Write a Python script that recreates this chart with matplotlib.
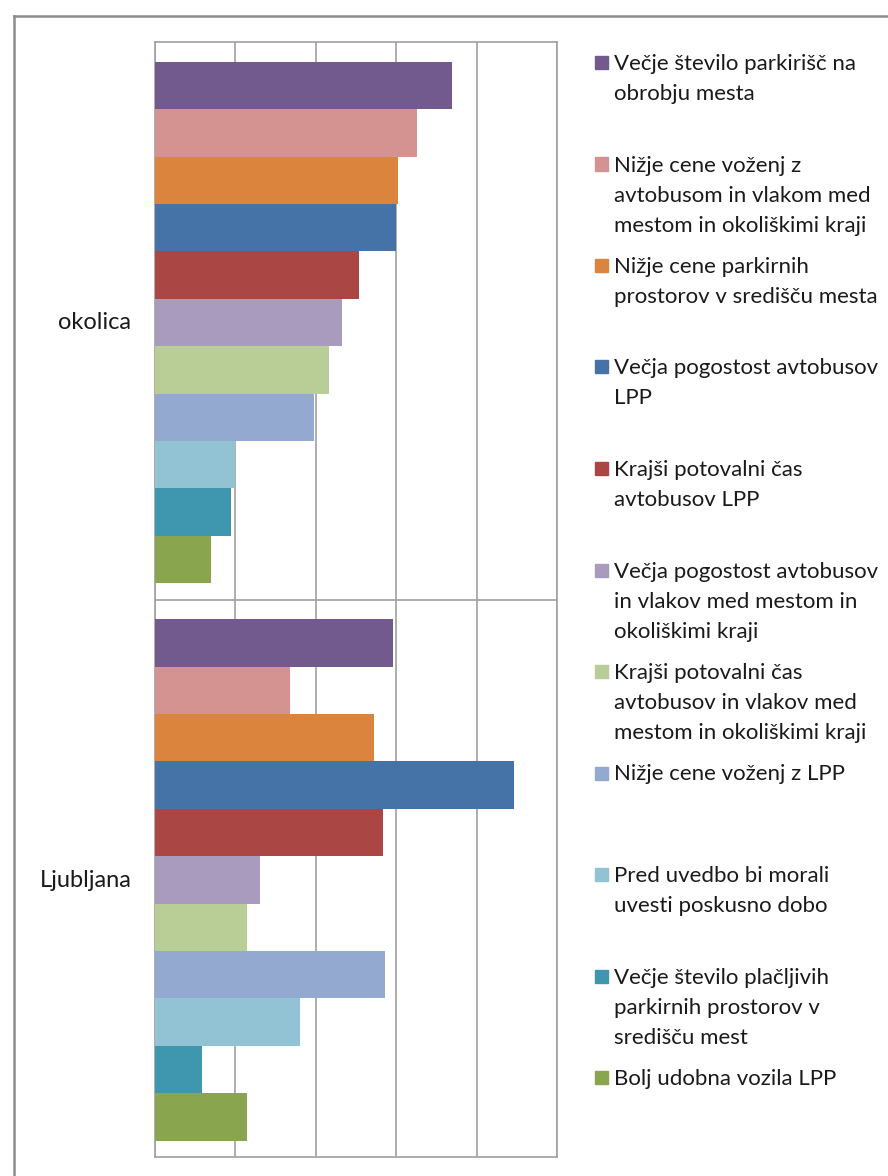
import matplotlib
matplotlib.use("Agg")
import matplotlib.pyplot as plt
from matplotlib.patches import Rectangle
from matplotlib.lines import Line2D
import numpy as np

plt.rcParams['font.family'] = ['Lato', 'DejaVu Sans']

categories = ["Ljubljana", "okolica"]
series_labels = [
    "Večje število parkirišč na\nobrobju mesta",
    "Nižje cene voženj z\navtobusom in vlakom med\nmestom in okoliškimi kraji",
    "Nižje cene parkirnih\nprostorov v središču mesta",
    "Večja pogostost avtobusov\nLPP",
    "Krajši potovalni čas\navtobusov LPP",
    "Večja pogostost avtobusov\nin vlakov med mestom in\nokoliškimi kraji",
    "Krajši potovalni čas\navtobusov in vlakov med\nmestom in okoliškimi kraji",
    "Nižje cene voženj z LPP",
    "Pred uvedbo bi morali\nuvesti poskusno dobo",
    "Večje število plačljivih\nparkirnih prostorov v\nsredišču mest",
    "Bolj udobna vozila LPP",
]
colors = ["#72598E", "#D49290", "#DB843D", "#4572A7", "#AA4643", "#A99BBD",
          "#B9CD96", "#93A9CF", "#92C3D4", "#3F97AF", "#89A54E"]
# values per series: [Ljubljana, okolica]
values_ljubljana = [14.8, 8.4, 13.6, 22.3, 14.2, 6.5, 5.7, 14.3, 9.0, 2.9, 5.7]
values_okolica = [18.5, 16.3, 15.1, 15.0, 12.7, 11.6, 10.8, 9.9, 5.0, 4.7, 3.5]

W, H = 888, 1176
fig = plt.figure(figsize=(W / 100, H / 100), dpi=100)

# outer frame
fig.add_artist(Line2D([14 / W, 14 / W], [0, 1 - 16 / H], transform=fig.transFigure,
                      color="#8C8C8C", lw=1.8))
fig.add_artist(Line2D([14 / W, 1], [1 - 16 / H, 1 - 16 / H], transform=fig.transFigure,
                      color="#8C8C8C", lw=1.8))

ax = fig.add_axes([155 / W, 1 - 1157 / H, (557 - 155) / W, (1157 - 42) / H])
n = len(series_labels)
bh = 0.085
ycat = np.arange(len(categories))
for i in range(n):
    vals = [values_ljubljana[i], values_okolica[i]]
    ax.barh(ycat + (n / 2 - 0.5 - i) * bh - 0.003, vals, height=bh, color=colors[i],
            edgecolor="none", zorder=3)

ax.set_xlim(0, 25)
ax.set_ylim(-0.5, 1.5)
ax.set_xticks(np.arange(0, 26, 5))
ax.set_xticklabels([])
ax.set_yticks(ycat)
ax.set_yticklabels(categories, fontsize=17, color="#1a1a1a")
ax.set_yticks([0.5], minor=True)
ax.tick_params(axis="both", which="both", length=0)
ax.tick_params(axis="y", pad=17)
ax.grid(True, axis="x", color="#A0A0A0", lw=1.2, zorder=0)
ax.grid(True, axis="y", which="minor", color="#A0A0A0", lw=1.2, zorder=0)
for s in ax.spines.values():
    s.set_color("#A0A0A0")
    s.set_linewidth(1.2)

# legend drawn manually
for i, lab in enumerate(series_labels):
    base = 70 + i * 101.5
    fig.add_artist(Rectangle((595 / W, 1 - (base - 1) / H), 13 / W, 13 / H,
                             transform=fig.transFigure, color=colors[i]))
    for k, line in enumerate(lab.split("\n")):
        fig.text(614 / W, 1 - (base + k * 30) / H, line, fontsize=16,
                 color="#1a1a1a", va="baseline", ha="left")

fig.savefig("out.png", dpi=100, facecolor="white")
